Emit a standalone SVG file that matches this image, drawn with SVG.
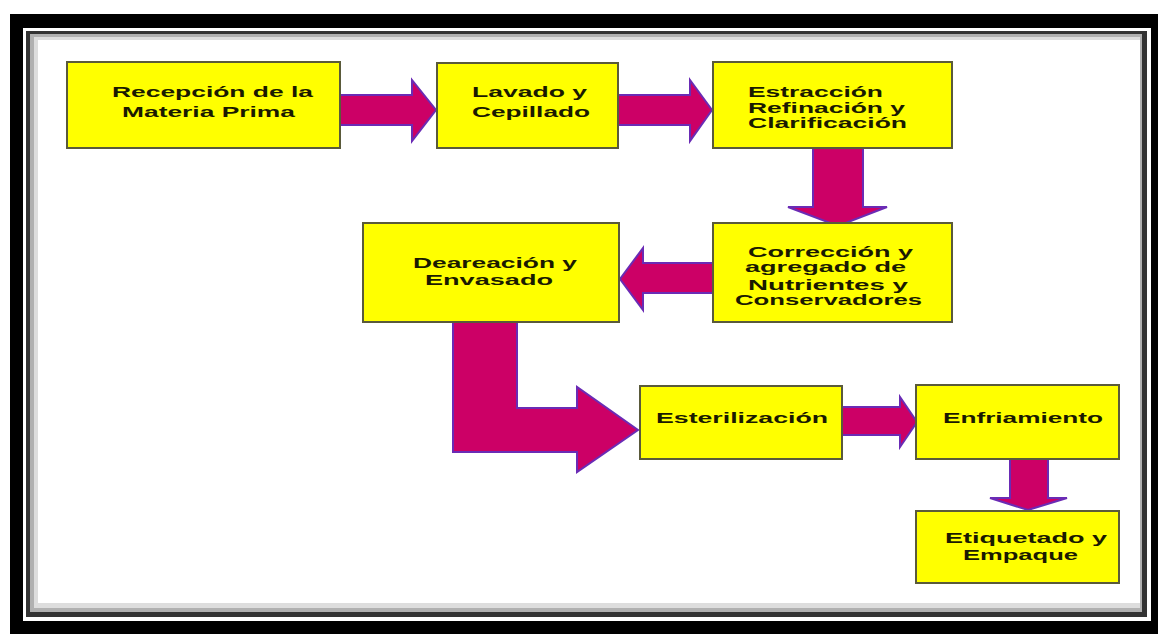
<svg xmlns="http://www.w3.org/2000/svg" width="1163" height="635" viewBox="0 0 1163 635">
<style>
.box{fill:#ffff00;stroke:#5a5a3a;stroke-width:2}
.arr{fill:#cc0066;stroke:#6a2bb5;stroke-width:2;stroke-linejoin:miter}
.t{font-family:"Liberation Sans",Arial,sans-serif;font-weight:bold;font-size:15px;fill:#1a1a00}
</style>
<rect x="0" y="0" width="1163" height="635" fill="#ffffff"/>
<g id="frame">
<rect x="10" y="14" width="1148" height="620" fill="#000000"/>
<rect x="23" y="28" width="1128" height="593" fill="#ffffff"/>
<rect x="26" y="31" width="1121" height="586" fill="#333333"/>
<rect x="30" y="34" width="1112" height="578" fill="#b0b0b0"/>
<rect x="34" y="37" width="1106" height="571" fill="#dddddd"/>
<rect x="38" y="40" width="1102" height="563" fill="#ffffff"/>
</g>
<g id="connectors">
<polygon class="arr" points="340,95 412,95 412,80 436,110 412,141 412,125 340,125"/>
<polygon class="arr" points="618,95 690,95 690,80 712,110 690,141 690,125 618,125"/>
<polygon class="arr" points="813,148 863,148 863,207 887,207 838,226 788,207 813,207"/>
<polygon class="arr" points="713,263 643,263 643,248 620,279 643,310 643,293 713,293"/>
<polygon class="arr" points="453,322 517,322 517,408 577,408 577,387 638,430 577,472 577,452 453,452"/>
<polygon class="arr" points="842,407 900,407 900,397 917,422 900,447 900,435 842,435"/>
<polygon class="arr" points="1010,459 1048,459 1048,498 1067,498 1028,510 990,498 1010,498"/>
</g>
<g id="n1">
<rect class="box" x="67" y="62" width="273" height="86"/>
<text class="t" x="112" y="97" textLength="201" lengthAdjust="spacingAndGlyphs">Recepción de la</text>
<text class="t" x="122" y="117" textLength="173" lengthAdjust="spacingAndGlyphs">Materia Prima</text>
</g>
<g id="n2">
<rect class="box" x="437" y="63" width="181" height="85"/>
<text class="t" x="472" y="97" textLength="115" lengthAdjust="spacingAndGlyphs">Lavado y</text>
<text class="t" x="472" y="117" textLength="118" lengthAdjust="spacingAndGlyphs">Cepillado</text>
</g>
<g id="n3">
<rect class="box" x="713" y="62" width="239" height="86"/>
<text class="t" x="748" y="97" textLength="135" lengthAdjust="spacingAndGlyphs">Estracción</text>
<text class="t" x="748" y="113" textLength="157" lengthAdjust="spacingAndGlyphs">Refinación y</text>
<text class="t" x="748" y="128" textLength="159" lengthAdjust="spacingAndGlyphs">Clarificación</text>
</g>
<g id="n4">
<rect class="box" x="713" y="223" width="239" height="99"/>
<text class="t" x="748" y="257" textLength="165" lengthAdjust="spacingAndGlyphs">Corrección y</text>
<text class="t" x="745" y="272" textLength="161" lengthAdjust="spacingAndGlyphs">agregado de</text>
<text class="t" x="748" y="290" textLength="160" lengthAdjust="spacingAndGlyphs">Nutrientes y</text>
<text class="t" x="735" y="305" textLength="187" lengthAdjust="spacingAndGlyphs">Conservadores</text>
</g>
<g id="n5">
<rect class="box" x="363" y="223" width="256" height="99"/>
<text class="t" x="413" y="268" textLength="164" lengthAdjust="spacingAndGlyphs">Deareación y</text>
<text class="t" x="425" y="285" textLength="128" lengthAdjust="spacingAndGlyphs">Envasado</text>
</g>
<g id="n6">
<rect class="box" x="640" y="386" width="202" height="73"/>
<text class="t" x="656" y="423" textLength="172" lengthAdjust="spacingAndGlyphs">Esterilización</text>
</g>
<g id="n7">
<rect class="box" x="916" y="385" width="203" height="74"/>
<text class="t" x="943" y="423" textLength="160" lengthAdjust="spacingAndGlyphs">Enfriamiento</text>
</g>
<g id="n8">
<rect class="box" x="916" y="511" width="203" height="72"/>
<text class="t" x="945" y="543" textLength="162" lengthAdjust="spacingAndGlyphs">Etiquetado y</text>
<text class="t" x="963" y="560" textLength="115" lengthAdjust="spacingAndGlyphs">Empaque</text>
</g>
</svg>
